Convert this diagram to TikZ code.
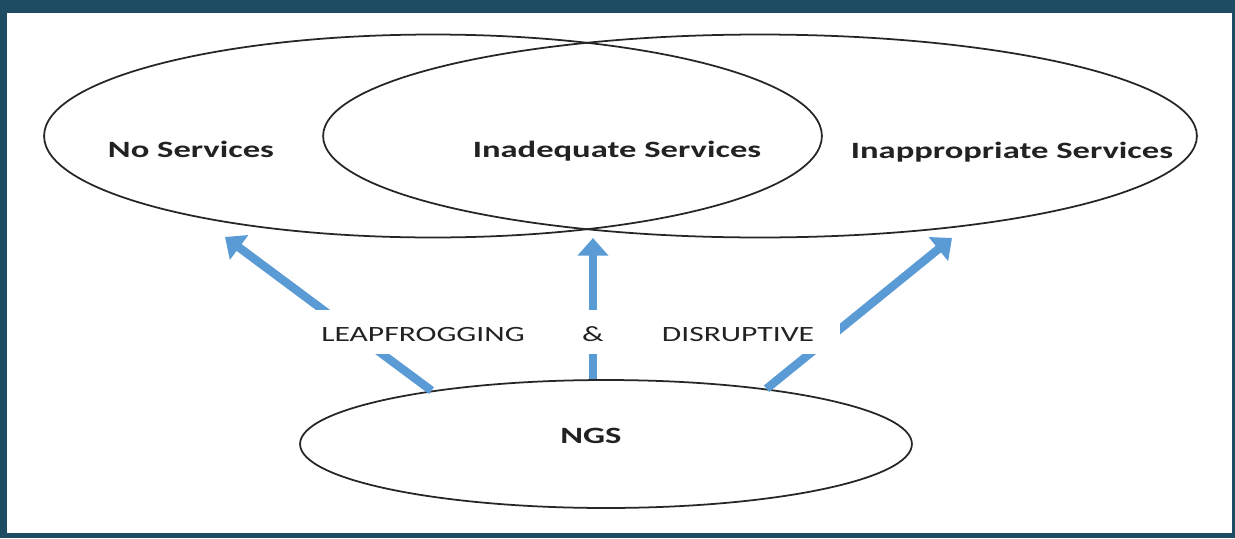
\documentclass[tikz,border=0pt]{standalone}
\usepackage{fontspec}
\setmainfont{Carlito}
\usetikzlibrary{arrows.meta,shapes.geometric}
\definecolor{framecol}{HTML}{1E4D63}
\definecolor{arrowcol}{HTML}{5B9BD5}
\definecolor{txtcol}{HTML}{222222}

\begin{document}
\begin{tikzpicture}[x=0.02cm,y=-0.02cm,
  oval/.style={draw=black!85, line width=1pt, ellipse, inner sep=0pt},
  title/.style={font=\bfseries\fontsize{13.3}{16}\selectfont, text=txtcol, xscale=1.48, anchor=base},
  tag/.style={font=\fontsize{12.4}{15}\selectfont, text=txtcol, fill=white, xscale=1.45,
    inner xsep=10pt, minimum height=25.6pt, text height=12pt, text depth=1.2pt},
  flow/.style={arrowcol, line width=4.8pt, -{Triangle[width=17pt,length=10pt]}}]

% frame
\fill [framecol] (0,0) rectangle (1235,538);
\fill [white] (7,13) rectangle (1232,533);

% the two overlapping sets and NGS
\node [oval, minimum width=15.56cm, minimum height=4.06cm] (nosvc) at (433,136) {};
\node [oval, minimum width=17.48cm, minimum height=4.06cm] (inapp) at (760,136) {};
\node [oval, minimum width=12.24cm, minimum height=2.56cm] (ngs) at (606,444) {};

\node [title] (nosvctxt) at (191,157) {No Services};
\node [title] (inadtxt) at (617,157) {Inadequate Services};
\node [title] (inapptxt) at (1012,158) {Inappropriate Services};
\node [title] (ngstxt) at (591,443) {NGS};

% arrows up from NGS
\coordinate (tipL) at (225,237);
\coordinate (tipM) at (593,238);
\coordinate (tipR) at (952,238);

\draw [flow] (ngs.163) -- (tipL);
\draw [flow] (tipM |- ngs.north) -- (tipM);
\draw [flow] (ngs.19) -- (tipR);

\node [tag] (leap) at (423,332) {LEAPFROGGING};
\node [tag] (amp) at (593,332) {\&};
\node [tag] (disr) at (738,332) {DISRUPTIVE};
\end{tikzpicture}
\end{document}
